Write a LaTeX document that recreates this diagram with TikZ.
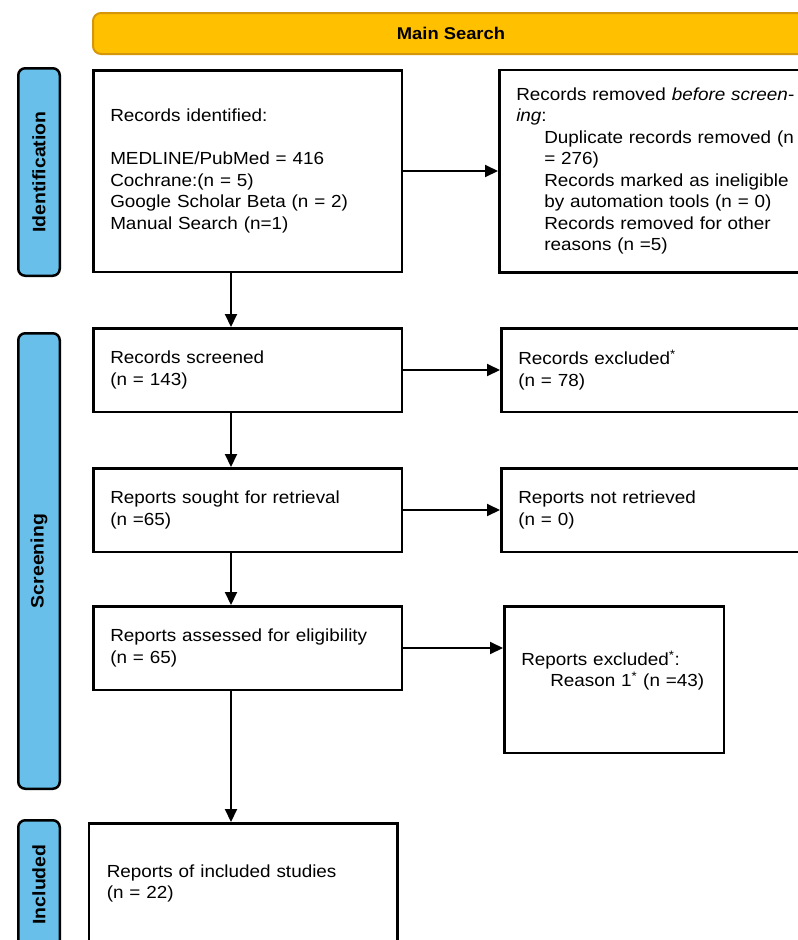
\documentclass[tikz,border=0pt]{standalone}
\usepackage{fontspec}
\setmainfont{Liberation Sans}[FakeStretch=1.08]
\usetikzlibrary{arrows.meta, positioning}
\definecolor{phaseblue}{RGB}{104,192,234}
\definecolor{searchgold}{RGB}{255,192,0}
\definecolor{searchedge}{RGB}{214,150,10}

\tikzset{
  flowbox/.style={draw, line width=2.5pt, fill=white, align=left, inner xsep=17pt,
    font=\fontsize{17.5}{21.5}\selectfont},
  phasebar/.style={draw, line width=2.5pt, fill=phaseblue, rounded corners=7pt, rotate=90,
    minimum height=41.5pt, inner sep=0pt, font=\fontsize{18}{21}\selectfont\bfseries},
  flowarrow/.style={-{Triangle[length=13pt, width=12pt]}, line width=2pt},
}

\begin{document}
\begin{tikzpicture}[x=1pt, y=-1pt]
    \useasboundingbox (0,0) rectangle (798,940);
    \clip (0,0) rectangle (798,940);

    % Header
    \node (search) [draw=searchedge, line width=2pt, fill=searchgold, rounded corners=8pt,
      minimum width=716pt, minimum height=41pt, font=\fontsize{17}{20}\selectfont\bfseries]
      at (451,33.5) {Main Search};

    % Phase labels
    \node (phaseid) [phasebar, minimum width=207.5pt] at (39,172) {Identification};
    \node (phasescr) [phasebar, minimum width=455.5pt] at (39,561) {Screening};
    \node (phaseinc) [phasebar, minimum width=128.5pt] at (39,884.5) {Included};

    % Main column
    \node (idbox) [flowbox, text width=274.5pt, minimum height=201.5pt] at (247.5,171)
      {Records identified:\\[21.5pt]
       MEDLINE/PubMed = 416\\
       Cochrane:(n = 5)\\
       Google Scholar Beta (n = 2)\\
       Manual Search (n=1)};
    \node (scrbox) [flowbox, text width=274.5pt, minimum height=83.5pt, below=54pt of idbox]
      {Records screened\\ (n = 143)};
    \node (soughtbox) [flowbox, text width=274.5pt, minimum height=83.5pt, below=54pt of scrbox]
      {Reports sought for retrieval\\ (n =65)};
    \node (assessbox) [flowbox, text width=274.5pt, minimum height=83.5pt, below=52pt of soughtbox]
      {Reports assessed for eligibility\\ (n = 65)};
    \node (inclbox) [flowbox, text width=272.5pt, inner xsep=18pt, minimum height=120.5pt,
      below=131pt of assessbox, xshift=-4.5pt]
      {Reports of included studies\\ (n = 22)};

    % Side column
    \node (rmbox) [flowbox, text width=296pt, minimum height=202.5pt, right=95pt of idbox]
      {Records removed \textit{before screen-}\\
       \textit{ing}:\\
       \hspace*{28pt}Duplicate records removed (n\\
       \hspace*{28pt}= 276)\\
       \hspace*{28pt}Records marked as ineligible\\
       \hspace*{28pt}by automation tools (n = 0)\\
       \hspace*{28pt}Records removed for other\\
       \hspace*{28pt}reasons (n =5)};
    \node (exclbox) [flowbox, text width=296pt, minimum height=83.5pt, right=97pt of scrbox]
      {Records excluded\textsuperscript{*}\\ (n = 78)};
    \node (nrbox) [flowbox, text width=296pt, minimum height=83.5pt, right=97pt of soughtbox]
      {Reports not retrieved\\ (n = 0)};
    \node (rexbox) [flowbox, text width=185.5pt, minimum height=146.5pt,
      right=100pt of assessbox.north east, anchor=north west]
      {Reports excluded\textsuperscript{*}:\\
       \hspace*{29pt}Reason 1\textsuperscript{*} (n =43)\\ \mbox{}};

    % Arrows
    \draw[flowarrow] ([xshift=-16.5pt]idbox.south) -- ([xshift=-16.5pt]scrbox.north);
    \draw[flowarrow] ([xshift=-16.5pt]scrbox.south) -- ([xshift=-16.5pt]soughtbox.north);
    \draw[flowarrow] ([xshift=-16.5pt]soughtbox.south) -- ([xshift=-16.5pt]assessbox.north);
    \draw[flowarrow] ([xshift=-16.5pt]assessbox.south) -- ([xshift=-16.5pt]assessbox.south |- inclbox.north);
    \draw[flowarrow] (idbox.east) -- (rmbox.west);
    \draw[flowarrow] (scrbox.east) -- (exclbox.west);
    \draw[flowarrow] (soughtbox.east) -- (nrbox.west);
    \draw[flowarrow] (assessbox.east) -- (assessbox.east -| rexbox.west);
\end{tikzpicture}
\end{document}
